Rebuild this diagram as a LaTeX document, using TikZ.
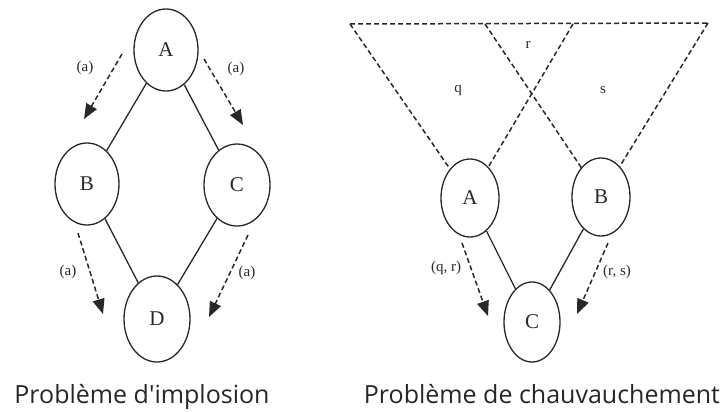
\documentclass[tikz,border=0pt]{standalone}
\usepackage{fontspec}
\setmainfont{Liberation Serif}
\newfontfamily\capfont{Open Sans}
\usetikzlibrary{shapes.geometric,arrows.meta}
\definecolor{inkgray}{RGB}{40, 40, 40}

\begin{document}
\begin{tikzpicture}[
    x=1pt, y=-1pt,
    state/.style={ellipse, draw=inkgray, line width=1.3pt, minimum width=64pt, minimum height=82pt, inner sep=0pt, font=\fontsize{21}{24}\selectfont, text=inkgray},
    link/.style={draw=inkgray, line width=1.3pt},
    dline/.style={draw=inkgray, line width=1.5pt, dash pattern=on 5pt off 3pt},
    darrow/.style={dline, -{Triangle[length=15pt, width=12pt]}},
    lbl/.style={font=\fontsize{15}{18}\selectfont, text=inkgray, inner sep=0pt},
    caption/.style={font=\capfont\fontsize{25}{30}\selectfont, anchor=base, inner sep=0pt, text=black!85}
]
\useasboundingbox (0,0) rectangle (728,412);

% Implosion
\node[state] (iA) at (166,50) {A};
\node[state] (iB) at (87,184) {B};
\node[state, minimum width=66pt] (iC) at (237,185) {C};
\node[state, minimum width=66pt, minimum height=86pt] (iD) at (157,319) {D};

\draw[link] (iA) -- (iB);
\draw[link] (iA) -- (iC);
\draw[link] (iB) -- (iD);
\draw[link] (iC) -- (iD);

\coordinate (iab0) at (122,54);  \coordinate (iab1) at (84,119);
\coordinate (iac0) at (204,59);  \coordinate (iac1) at (243,125);
\coordinate (ibd0) at (78,233);  \coordinate (ibd1) at (103,314);
\coordinate (icd0) at (248,235); \coordinate (icd1) at (209,317);
\draw[darrow] (iab0) -- (iab1);
\draw[darrow] (iac0) -- (iac1);
\draw[darrow] (ibd0) -- (ibd1);
\draw[darrow] (icd0) -- (icd1);

\node[lbl] (lab) at (85,68) {(a)};
\node[lbl] (lac) at (236,69) {(a)};
\node[lbl] (lbd) at (68,272) {(a)};
\node[lbl] (lcd) at (247,273) {(a)};

% Chevauchement
\node[state, minimum width=58pt, minimum height=78pt] (cA) at (470,198) {A};
\node[state, minimum width=58pt, minimum height=78pt] (cB) at (601,197) {B};
\node[state, minimum width=56pt, minimum height=80pt] (cC) at (532,322) {C};

\coordinate (tq) at (350,24);
\coordinate (tr0) at (485,24);
\coordinate (tr1) at (573,24);
\coordinate (ts) at (708,23);
\draw[dline] (tq) -- (ts);
\draw[dline] (tq) -- (cA);
\draw[dline] (tr1) -- (cA);
\draw[dline] (tr0) -- (cB);
\draw[dline] (ts) -- (cB);

\node[lbl] (lr) at (528,45) {r};
\node[lbl] (lq) at (458,90) {q};
\node[lbl] (ls) at (603,90) {s};

\draw[link] (cA) -- (cC);
\draw[link] (cB) -- (cC);

\coordinate (cac0) at (462,243); \coordinate (cac1) at (488,316);
\coordinate (cbc0) at (608,243); \coordinate (cbc1) at (577,314);
\draw[darrow] (cac0) -- (cac1);
\draw[darrow] (cbc0) -- (cbc1);

\node[lbl] (lqr) at (446,268) {(q, r)};
\node[lbl] (lrs) at (617,272) {(r, s)};

% Captions
\node[caption] (cap1) at (142,403) {Problème d'implosion};
\node[caption] (cap2) at (542,403) {Problème de chauvauchement};

\end{tikzpicture}
\end{document}
